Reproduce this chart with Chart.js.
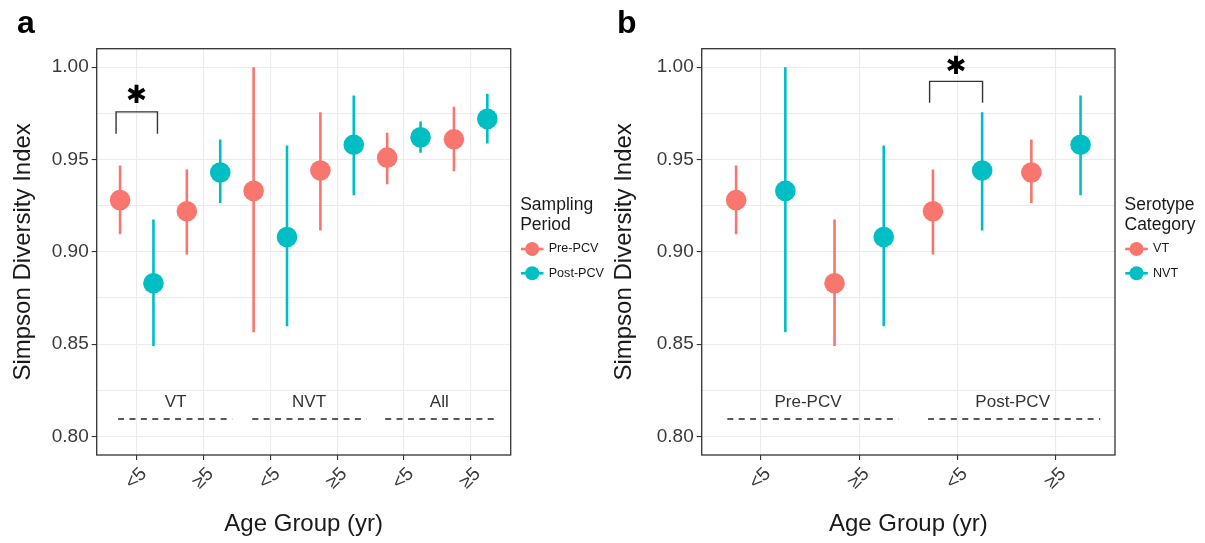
<!DOCTYPE html>
<html><head><meta charset="utf-8">
<script src="https://cdn.jsdelivr.net/npm/chart.js@4/dist/chart.umd.min.js"></script>
<style>
html,body{margin:0;padding:0;background:#fff;}
#wrap{position:relative;width:1205px;height:543px;overflow:hidden;background:#fff;}
canvas{position:absolute;top:0;}
#ca{left:0;} #cb{left:600px;}
</style></head><body>
<div id="wrap">
<canvas id="ca" width="620" height="543"></canvas>
<canvas id="cb" width="605" height="543"></canvas>
</div>
<script>
// ---------- shared ----------
const dodge = 0.25;
const yMajor = [0.80, 0.85, 0.90, 0.95, 1.00];
const yMinor = [0.825, 0.875, 0.925, 0.975];
const yMin = 0.79, yMax = 1.01;
const yTitle = 'Simpson Diversity Index';
const xTitle = 'Age Group (yr)';
const colRed = '#F8766D', colTeal = '#00BFC4';

// ---------- panel a ----------
const aCategories = ['<5', '≥5', '<5', '≥5', '<5', '≥5'];
const aGroups = ['VT', 'NVT', 'All'];
const aSeriesNames = ['Pre-PCV', 'Post-PCV'];
const aPreMid  = [0.928, 0.922, 0.933, 0.944, 0.951, 0.961];
const aPreLow  = [0.9095, 0.8985, 0.8564, 0.9115, 0.9366, 0.9437];
const aPreHigh = [0.9467, 0.9446, 1.0000, 0.9756, 0.9645, 0.9785];
const aPostMid  = [0.883, 0.943, 0.908, 0.958, 0.962, 0.972];
const aPostLow  = [0.8490, 0.9265, 0.8597, 0.9307, 0.9536, 0.9587];
const aPostHigh = [0.9175, 0.9608, 0.9576, 0.9847, 0.9706, 0.9856];
const aGroupStart = [-0.28, 1.73, 3.72];
const aGroupEnd   = [1.43, 3.44, 5.42];
const aGroupLabelX = [0.58, 2.58, 4.53];
const aBracketX = [-0.31, 0.31];
const aBracketY = [0.9639, 0.9758];
const aStar = [0.0, 0.984];

// ---------- panel b ----------
const bCategories = ['<5', '≥5', '<5', '≥5'];
const bGroups = ['Pre-PCV', 'Post-PCV'];
const bSeriesNames = ['VT', 'NVT'];
const bVtMid  = [0.928, 0.883, 0.922, 0.943];
const bVtLow  = [0.9095, 0.8490, 0.8985, 0.9265];
const bVtHigh = [0.9467, 0.9175, 0.9446, 0.9608];
const bNvtMid  = [0.933, 0.908, 0.944, 0.958];
const bNvtLow  = [0.8564, 0.8597, 0.9115, 0.9307];
const bNvtHigh = [1.0000, 0.9576, 0.9756, 0.9847];
const bGroupStart = [-0.34, 1.70];
const bGroupEnd   = [1.40, 3.45];
const bGroupLabelX = [0.48, 2.56];
const bBracketX = [1.716, 2.254];
const bBracketY = [0.9807, 0.9923];
const bStar = [1.987, 1.000];

const groupLineY = 0.8095;
const groupLabelY = 0.8185;

const FONT = "'Liberation Sans', Arial, sans-serif";
Chart.defaults.font.family = FONT;

function isMajor(v){ return yMajor.some(m => Math.abs(m - v) < 1e-6); }

function makeDecor(cfg){
  return {
    id: 'decor_' + cfg.letter,
    afterDatasetsDraw(chart){
      const {ctx, chartArea: a, scales} = chart;
      const x = scales.x, y = scales.y;
      ctx.save();
      // group labels
      ctx.font = '17px ' + FONT;
      ctx.fillStyle = '#333';
      ctx.textAlign = 'center';
      ctx.textBaseline = 'middle';
      cfg.groups.forEach((g, i) => {
        ctx.fillText(g, x.getPixelForValue(cfg.groupLabelX[i]), y.getPixelForValue(groupLabelY));
      });
      // significance star
      ctx.font = '25px "DejaVu Sans"';
      ctx.fillStyle = '#000';
      ctx.fillText('✱', x.getPixelForValue(cfg.star[0]), y.getPixelForValue(cfg.star[1]));
      // panel border
      ctx.strokeStyle = '#333';
      ctx.lineWidth = 1.3;
      ctx.strokeRect(a.left, a.top, a.right - a.left, a.bottom - a.top);
      // legend
      const x0 = a.right + 9.5;
      ctx.textAlign = 'left';
      ctx.textBaseline = 'alphabetic';
      ctx.fillStyle = '#1a1a1a';
      ctx.font = '17.5px ' + FONT;
      ctx.fillText(cfg.legendTitle[0], x0, 210);
      ctx.fillText(cfg.legendTitle[1], x0, 230);
      cfg.series.forEach((s, k) => {
        const cy = 249 + k * 24.3;
        ctx.strokeStyle = s.color;
        ctx.lineWidth = 2.6;
        ctx.beginPath(); ctx.moveTo(x0 + 0.7, cy); ctx.lineTo(x0 + 23.3, cy); ctx.stroke();
        ctx.fillStyle = s.color;
        ctx.beginPath(); ctx.arc(x0 + 12, cy, 7, 0, Math.PI * 2); ctx.fill();
        ctx.fillStyle = '#1a1a1a';
        ctx.font = '12.6px ' + FONT;
        ctx.textBaseline = 'middle';
        ctx.fillText(s.name, x0 + 28.5, cy);
      });
      // panel letter
      ctx.textBaseline = 'alphabetic';
      ctx.fillStyle = '#000';
      ctx.font = 'bold 32px ' + FONT;
      ctx.fillText(cfg.letter, cfg.letterX, 33);
      ctx.restore();
    }
  };
}

function makePanel(canvasId, cfg){
  const n = cfg.categories.length;
  const datasets = [];
  cfg.series.forEach((s, k) => {
    const off = (k === 0 ? -1 : 1) * dodge;
    datasets.push({
      label: s.name, data: s.mid.map((v, i) => ({x: i + off, y: v})),
      backgroundColor: s.color, borderWidth: 0, pointRadius: 10.3, pointHoverRadius: 10.3,
      showLine: false, order: 0
    });
  });
  cfg.series.forEach((s, k) => {
    const off = (k === 0 ? -1 : 1) * dodge;
    const d = [];
    s.low.forEach((lo, i) => { d.push({x: i + off, y: lo}, {x: i + off, y: s.high[i]}, {x: i + off, y: null}); });
    datasets.push({ data: d, showLine: true, spanGaps: false, borderColor: s.color, borderWidth: 2.6,
      pointRadius: 0, borderCapStyle: 'butt', order: 1 });
  });
  const dash = [];
  cfg.groupStart.forEach((st, i) => { dash.push({x: st, y: groupLineY}, {x: cfg.groupEnd[i], y: groupLineY}, {x: cfg.groupEnd[i], y: null}); });
  datasets.push({ data: dash, showLine: true, spanGaps: false, borderColor: '#222', borderWidth: 1.3,
    borderDash: [6, 5.4], pointRadius: 0, order: 2 });
  datasets.push({ data: [
      {x: cfg.bracketX[0], y: cfg.bracketY[0]}, {x: cfg.bracketX[0], y: cfg.bracketY[1]},
      {x: cfg.bracketX[1], y: cfg.bracketY[1]}, {x: cfg.bracketX[1], y: cfg.bracketY[0]}],
    showLine: true, borderColor: '#333', borderWidth: 1.4, pointRadius: 0, order: 2 });

  return new Chart(document.getElementById(canvasId), {
    type: 'scatter',
    data: { datasets },
    plugins: [makeDecor(cfg)],
    options: {
      responsive: false, animation: false, devicePixelRatio: 1, events: [],
      layout: { padding: { left: 0, top: 48.7, right: cfg.padRight, bottom: 0 } },
      plugins: { legend: { display: false }, tooltip: { enabled: false } },
      scales: {
        x: {
          type: 'linear', min: -0.6, max: n - 1 + 0.6,
          afterBuildTicks: s => { s.ticks = cfg.categories.map((_, i) => ({value: i})); },
          afterFit: s => { s.height = 88; },
          border: { display: false },
          grid: { color: '#ebebeb', lineWidth: 1.1, tickLength: 5, tickColor: '#333', tickWidth: 1.1 },
          ticks: { autoSkip: false, minRotation: 45, maxRotation: 45, padding: 3, labelOffset: 7,
            color: '#3a3a3a', font: { size: 19 }, callback: v => cfg.categories[v] },
          title: { display: true, text: xTitle, color: '#1a1a1a', font: { size: 24 }, padding: { top: 0, bottom: 4 } }
        },
        y: {
          min: yMin, max: yMax,
          afterBuildTicks: s => { s.ticks = [...yMajor, ...yMinor].sort((p, q) => p - q).map(v => ({value: v})); },
          afterFit: s => { s.width = cfg.yWidth; },
          border: { display: false },
          grid: { color: '#ebebeb', lineWidth: 1.1, tickLength: 5, tickWidth: 1.1,
            tickColor: c => (c.tick && isMajor(c.tick.value)) ? '#333' : 'rgba(0,0,0,0)' },
          ticks: { padding: 3, color: '#3a3a3a', font: { size: 19 },
            callback: v => isMajor(v) ? v.toFixed(2) : '' },
          title: { display: true, text: yTitle, color: '#1a1a1a', font: { size: 24 }, padding: { top: cfg.yTitlePad, bottom: 0 } }
        }
      }
    }
  });
}

makePanel('ca', {
  letter: 'a', letterX: 17,
  categories: aCategories, groups: aGroups,
  groupStart: aGroupStart, groupEnd: aGroupEnd, groupLabelX: aGroupLabelX,
  bracketX: aBracketX, bracketY: aBracketY, star: aStar,
  legendTitle: ['Sampling', 'Period'],
  series: [
    {name: aSeriesNames[0], color: colRed, mid: aPreMid, low: aPreLow, high: aPreHigh},
    {name: aSeriesNames[1], color: colTeal, mid: aPostMid, low: aPostLow, high: aPostHigh}
  ],
  yWidth: 96.7, padRight: 620 - 510.7, yTitlePad: 8.6
});

makePanel('cb', {
  letter: 'b', letterX: 17,
  categories: bCategories, groups: bGroups,
  groupStart: bGroupStart, groupEnd: bGroupEnd, groupLabelX: bGroupLabelX,
  bracketX: bBracketX, bracketY: bBracketY, star: bStar,
  legendTitle: ['Serotype', 'Category'],
  series: [
    {name: bSeriesNames[0], color: colRed, mid: bVtMid, low: bVtLow, high: bVtHigh},
    {name: bSeriesNames[1], color: colTeal, mid: bNvtMid, low: bNvtLow, high: bNvtHigh}
  ],
  yWidth: 101.7, padRight: 605 - 515, yTitlePad: 9.6
});
</script>
</body></html>
